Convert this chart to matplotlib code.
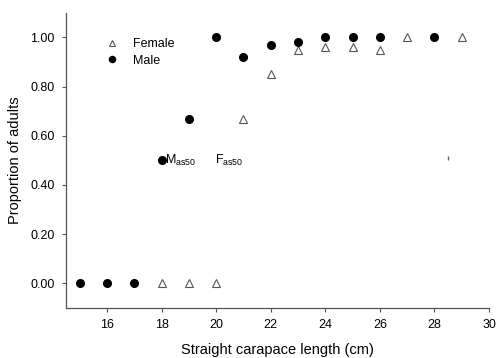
import matplotlib
matplotlib.use("Agg")
import matplotlib.pyplot as plt

plt.rcParams['font.family'] = ['Liberation Sans', 'DejaVu Sans']

# data
male_x = [15, 16, 17, 18, 19, 20, 21, 22, 23, 24, 25, 26, 28]
male_y = [0.00, 0.00, 0.00, 0.50, 0.67, 1.00, 0.92, 0.97, 0.98, 1.00, 1.00, 1.00, 1.00]
female_x = [18, 19, 20, 21, 22, 23, 24, 25, 26, 27, 29]
female_y = [0.00, 0.00, 0.00, 0.67, 0.85, 0.95, 0.96, 0.96, 0.95, 1.00, 1.00]
x_ticks = [16, 18, 20, 22, 24, 26, 28, 30]
y_ticks = [0.0, 0.2, 0.4, 0.6, 0.8, 1.0]

fig = plt.figure(figsize=(4.96, 3.58), dpi=100)
ax = fig.add_axes([0.133, 0.140, 0.853, 0.824])

ax.plot(female_x, female_y, '^', ms=5.5, mfc='white', mec='#555555', mew=0.8,
        ls='none', label='Female')
ax.plot(male_x, male_y, 'o', ms=5.5, color='black', ls='none', label='Male')

ax.text(18.12, 0.5, r'M$_{\mathregular{as50}}$', fontsize=9, va='center', ha='left')
ax.text(19.95, 0.5, r'F$_{\mathregular{as50}}$', fontsize=9, va='center', ha='left')
ax.plot([28.5], [0.51], marker='|', ms=3, color='#666666', ls='none')

ax.set_xlim(14.5, 30)
ax.set_ylim(-0.1, 1.1)
ax.set_xticks(x_ticks)
ax.set_yticks(y_ticks)
ax.set_yticklabels([f"{v:.2f}" for v in y_ticks])
ax.tick_params(labelsize=9, color='#555555', length=3, width=0.8, pad=5)

for s in ['top', 'right']:
    ax.spines[s].set_visible(False)
for s in ['left', 'bottom']:
    ax.spines[s].set_color('#555555')
    ax.spines[s].set_linewidth(0.9)

ax.set_xlabel('Straight carapace length (cm)', fontsize=10.5, labelpad=9)
ax.set_ylabel('Proportion of adults', fontsize=10.5, labelpad=6)

ax.legend(loc='upper left', bbox_to_anchor=(0.072, 0.935), frameon=False,
          fontsize=9, handletextpad=0.9, labelspacing=0.35, borderpad=0,
          markerscale=0.8, handlelength=1.5)

fig.savefig('out.png', dpi=100)
